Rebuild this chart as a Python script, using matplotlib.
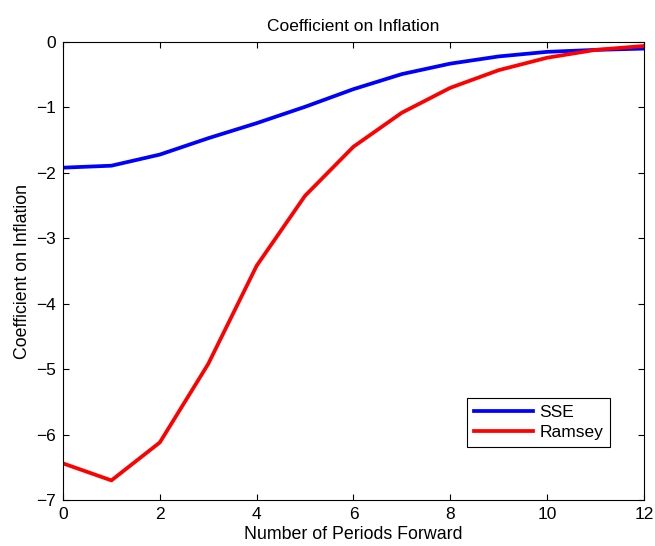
import matplotlib
matplotlib.use("Agg")
import matplotlib.pyplot as plt

plt.rcParams["font.family"] = ["Liberation Sans", "DejaVu Sans"]

periods = list(range(13))
sse = [-1.92, -1.89, -1.72, -1.47, -1.24, -0.99, -0.72, -0.49, -0.33, -0.22, -0.15, -0.12, -0.10]
ramsey = [-6.44, -6.70, -6.12, -4.92, -3.42, -2.35, -1.60, -1.08, -0.70, -0.43, -0.24, -0.12, -0.06]

fig = plt.figure(figsize=(6.55, 5.46), dpi=100)
ax = fig.add_axes([0.0962, 0.0842, 0.8868, 0.8388])

ax.plot(periods, sse, color="#0000ff", linewidth=2.7, label="SSE")
ax.plot(periods, ramsey, color="#ff0000", linewidth=2.7, label="Ramsey")

ax.set_xlim(0, 12)
ax.set_ylim(-7, 0)
ax.set_xticks(range(0, 13, 2))
ax.set_yticks(range(-7, 1))
ax.set_yticklabels([str(v).replace("-", "\u2212") for v in range(-7, 1)])
ax.tick_params(direction="in", top=True, right=True, labelsize=12.5, length=4, pad=5)
for s in ax.spines.values():
    s.set_linewidth(0.8)

ax.set_title("Coefficient on Inflation", fontsize=12.5, pad=8)
ax.set_xlabel("Number of Periods Forward", fontsize=12.8, labelpad=3)
ax.set_ylabel("Coefficient on Inflation", fontsize=12.8, labelpad=4)

leg = ax.legend(loc="lower left", bbox_to_anchor=(0.695, 0.115), fontsize=12.5,
                fancybox=False, edgecolor="black", framealpha=1,
                handlelength=3.4, borderpad=0.4, labelspacing=0.3, handletextpad=0.4,
                borderaxespad=0)
leg.get_frame().set_linewidth(0.8)

fig.savefig("out.png", dpi=100)
